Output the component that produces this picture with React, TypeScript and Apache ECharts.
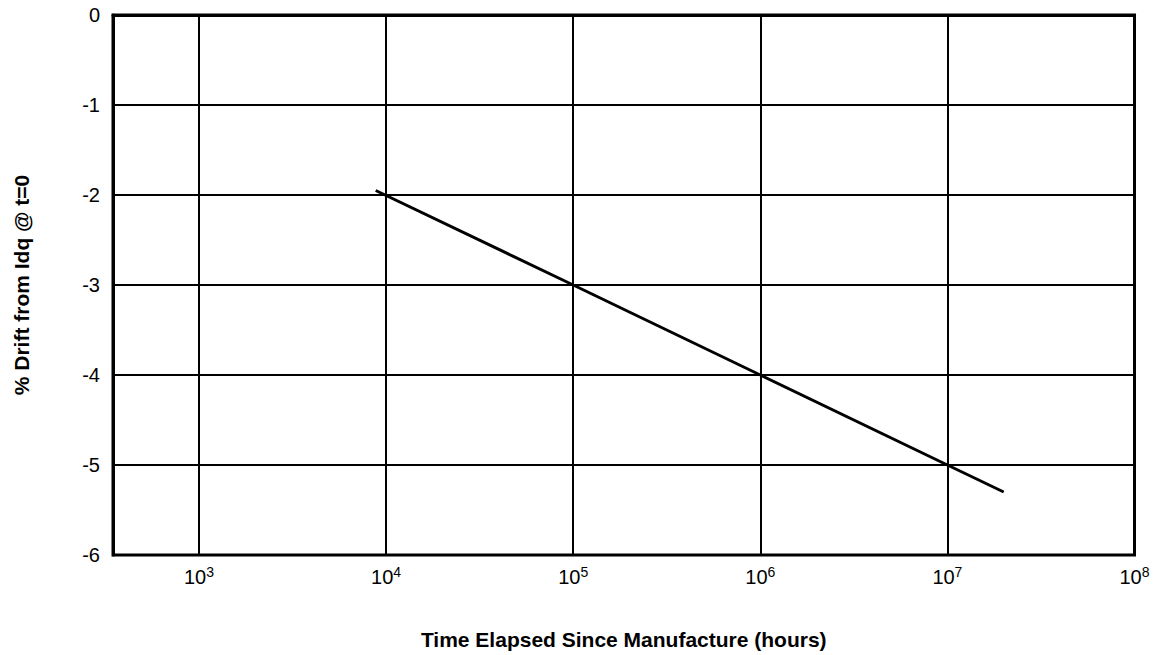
import React, { useEffect, useRef } from "react";
import * as echarts from "echarts";

// Data
const hoursElapsed: number[] = [8800, 1e5, 1e6, 1e7, 2.0e7];
const driftPercent: number[] = [-1.95, -3, -4, -5, -5.3];
const yTicks: number[] = [0, -1, -2, -3, -4, -5, -6];
const xDecadeExponents: number[] = [3, 4, 5, 6, 7, 8];

const X_MIN = Math.pow(10, 2.5404);
const X_MAX = 1e8;
const FONT = "Liberation Sans, Arial, Helvetica, sans-serif";

export default function App() {
  const ref = useRef<HTMLDivElement | null>(null);

  useEffect(() => {
    if (!ref.current) return;
    const chart = echarts.init(ref.current, undefined, { renderer: "svg" });
    const option: any = {
      animation: false,
      backgroundColor: "#ffffff",
      grid: {
        left: 113,
        right: 21.5,
        top: 15,
        bottom: 97,
        show: true,
        borderColor: "#000",
        borderWidth: 3,
        backgroundColor: "transparent",
      },
      xAxis: {
        type: "log",
        logBase: 10,
        min: X_MIN,
        max: X_MAX,
        name: "Time Elapsed Since Manufacture (hours)",
        nameLocation: "middle",
        nameGap: 74,
        nameTextStyle: {
          fontFamily: FONT,
          fontSize: 21,
          fontWeight: "bold",
          color: "#000",
        },
        axisLine: { show: true, lineStyle: { color: "#000", width: 3 } },
        axisTick: { show: false },
        splitLine: { show: true, lineStyle: { color: "#000", width: 2 } },
        axisLabel: {
          show: true,
          showMinLabel: false,
          showMaxLabel: true,
          margin: 10,
          formatter: (v: number) => {
            const e = Math.log10(v);
            const r = Math.round(e);
            if (Math.abs(e - r) > 0.01 || xDecadeExponents.indexOf(r) < 0) return "";
            return "{b|10}{s|" + r + "}";
          },
          rich: {
            b: { fontFamily: FONT, fontSize: 20, color: "#000", lineHeight: 22, verticalAlign: "bottom" },
            s: { fontFamily: FONT, fontSize: 14, color: "#000", lineHeight: 14, verticalAlign: "top" },
          },
        },
      },
      yAxis: {
        type: "value",
        min: yTicks[yTicks.length - 1],
        max: yTicks[0],
        interval: 1,
        name: "% Drift from Idq @ t=0",
        nameLocation: "middle",
        nameGap: 81,
        nameTextStyle: {
          fontFamily: FONT,
          fontSize: 21,
          fontWeight: "bold",
          color: "#000",
        },
        axisLine: { show: true, lineStyle: { color: "#000", width: 3 } },
        axisTick: { show: false },
        splitLine: { show: true, lineStyle: { color: "#000", width: 2 } },
        axisLabel: {
          margin: 13,
          fontFamily: FONT,
          fontSize: 20,
          color: "#000",
        },
      },
      series: [
        {
          type: "line",
          data: hoursElapsed.map((h, i) => [h, driftPercent[i]]),
          showSymbol: false,
          symbol: "none",
          lineStyle: { color: "#000", width: 3 },
          z: 5,
        },
      ],
    };
    chart.setOption(option);
    return () => {
      chart.dispose();
    };
  }, []);

  return (
    <div
      ref={ref}
      style={{ position: "fixed", left: 0, top: 0, width: 1156, height: 655, background: "#fff" }}
    />
  );
}
